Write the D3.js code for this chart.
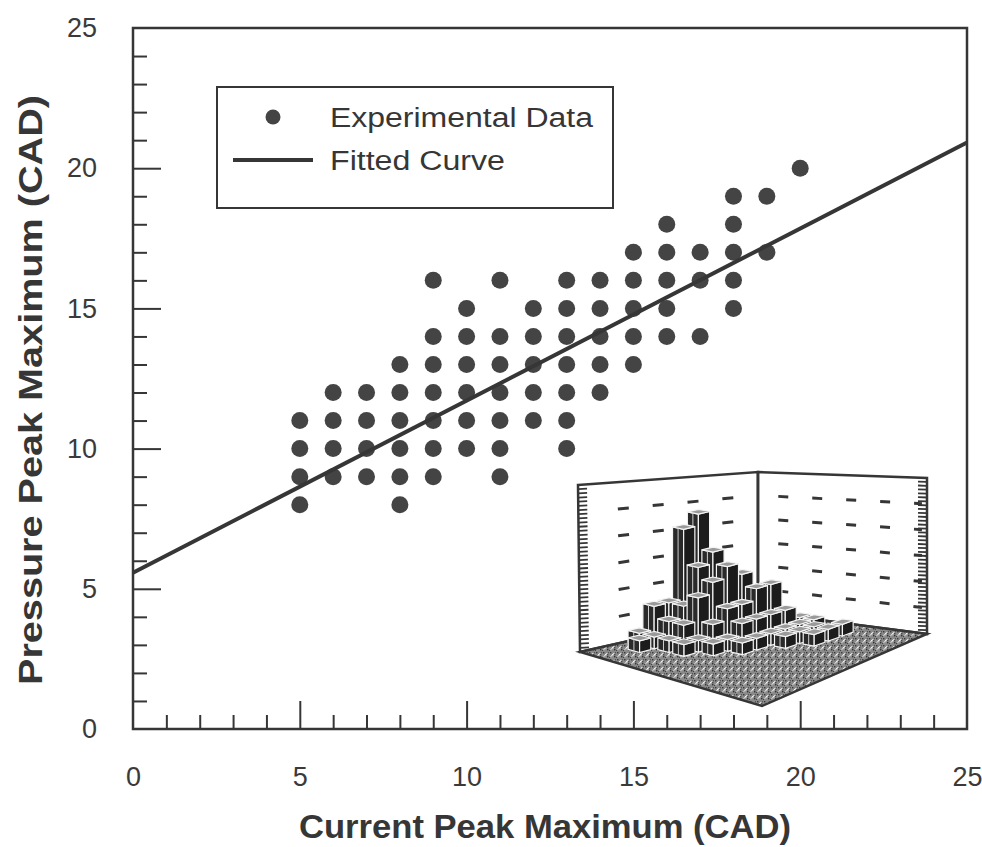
<!DOCTYPE html>
<html>
<head>
<meta charset="utf-8">
<script src="https://cdn.jsdelivr.net/npm/d3@7"></script>
<style>
    body { margin: 0; background: #fff; }
    svg { display: block; font-family: "Liberation Sans", Arial, Helvetica, sans-serif; }
</style>
</head>
<body>
<svg id="chart"></svg>
<script>
// experimental points, one list of pressure peaks per current peak value
const currentValues = [5, 6, 7, 8, 9, 10, 11, 12, 13, 14, 15, 16, 17, 18, 19, 20];
const pressureByCurrent = [
    [8, 9, 10, 11],
    [9, 10, 11, 12],
    [9, 10, 11, 12],
    [8, 9, 10, 11, 12, 13],
    [9, 10, 11, 12, 13, 14, 16],
    [10, 11, 12, 13, 14, 15],
    [9, 10, 11, 12, 13, 14, 16],
    [11, 12, 13, 14, 15],
    [10, 11, 12, 13, 14, 15, 16],
    [12, 13, 14, 15, 16],
    [13, 14, 15, 16, 17],
    [14, 15, 16, 17, 18],
    [14, 16, 17],
    [15, 16, 17, 18, 19],
    [17, 19],
    [20]
];

// fitted line: pressure = intercept + slope * current
const fitIntercept = 5.57;
const fitSlope = 0.614;

const xTickLabels = [0, 5, 10, 15, 20, 25];
const yTickLabels = [0, 5, 10, 15, 20, 25];
const legendLabels = ['Experimental Data', 'Fitted Curve'];

// inset histogram: counts per floor cell (rows = depth toward left, cols = toward right)
const insetCounts = [
    [0, 0, 0, 0, 0, 0, 0, 0, 0, 0, 0, 0],
    [0, 0, 1, 1, 1, 1, 0, 1, 0, 0, 0, 0],
    [0, 1, 2, 4, 2, 1, 1, 1, 0, 0, 0, 0],
    [1, 3, 5, 4, 2, 1, 1, 1, 0, 0, 0, 0],
    [10, 7, 6, 3, 2, 1, 1, 0, 0, 0, 0, 0],
    [9, 6, 5, 3, 2, 1, 0, 0, 0, 0, 0, 0],
    [3, 3, 4, 2, 1, 1, 0, 0, 0, 0, 0, 0],
    [3, 2, 2, 1, 1, 0, 0, 0, 0, 0, 0, 0],
    [1, 1, 1, 1, 0, 0, 0, 0, 0, 0, 0, 0],
    [0, 1, 0, 0, 0, 0, 0, 0, 0, 0, 0, 0],
    [0, 0, 0, 0, 0, 0, 0, 0, 0, 0, 0, 0],
    [0, 0, 0, 0, 0, 0, 0, 0, 0, 0, 0, 0]
];
const insetMaxCount = 12;

const ink = '#363636';
const fontFamily = '"Liberation Sans", Arial, Helvetica, sans-serif';

const width = 982, height = 847;
const plot = { left: 133, right: 967, top: 28, bottom: 729 };

const svg = d3.select('#chart')
    .attr('width', width)
    .attr('height', height);

svg.append('rect').attr('width', width).attr('height', height).attr('fill', '#fff');

const xScale = d3.scaleLinear().domain([0, 25]).range([plot.left, plot.right]);
const yScale = d3.scaleLinear().domain([0, 25]).range([plot.bottom, plot.top]);

// ---- axes: minor ticks, major ticks, labels (ticks point inward) ----
const minorVals = d3.range(1, 25).filter(d => d % 5 !== 0);
const majorVals = [5, 10, 15, 20];

function styleAxis(g) {
    g.attr('font-family', fontFamily).attr('font-size', 27);
    g.select('.domain').remove();
    g.selectAll('line').attr('stroke', ink).attr('stroke-width', 2);
    g.selectAll('text').attr('fill', '#3a3a3a');
}

svg.append('g')
    .attr('transform', `translate(0,${plot.bottom})`)
    .call(d3.axisBottom(xScale).tickValues(minorVals).tickSize(-14).tickFormat(''))
    .call(styleAxis);
svg.append('g')
    .attr('transform', `translate(0,${plot.bottom})`)
    .call(d3.axisBottom(xScale).tickValues(majorVals).tickSize(-28).tickFormat(''))
    .call(styleAxis);
svg.append('g')
    .attr('transform', `translate(0,${plot.bottom})`)
    .call(d3.axisBottom(xScale).tickValues(xTickLabels).tickSize(0).tickPadding(38))
    .call(styleAxis);

svg.append('g')
    .attr('transform', `translate(${plot.left},0)`)
    .call(d3.axisLeft(yScale).tickValues(minorVals).tickSize(-14).tickFormat(''))
    .call(styleAxis);
svg.append('g')
    .attr('transform', `translate(${plot.left},0)`)
    .call(d3.axisLeft(yScale).tickValues(majorVals).tickSize(-28).tickFormat(''))
    .call(styleAxis);
svg.append('g')
    .attr('transform', `translate(${plot.left},0)`)
    .call(d3.axisLeft(yScale).tickValues(yTickLabels).tickSize(0).tickPadding(36))
    .call(styleAxis);

// frame
svg.append('rect')
    .attr('x', plot.left).attr('y', plot.top)
    .attr('width', plot.right - plot.left).attr('height', plot.bottom - plot.top)
    .attr('fill', 'none').attr('stroke', ink).attr('stroke-width', 2.5);

// axis titles
svg.append('text')
    .attr('x', 545)
    .attr('y', 838)
    .attr('text-anchor', 'middle')
    .attr('font-size', 34).attr('font-weight', 'bold').attr('fill', ink)
    .attr('textLength', 492).attr('lengthAdjust', 'spacingAndGlyphs')
    .text('Current Peak Maximum (CAD)');

svg.append('text')
    .attr('transform', 'translate(42,390) rotate(-90)')
    .attr('text-anchor', 'middle')
    .attr('font-size', 34).attr('font-weight', 'bold').attr('fill', ink)
    .attr('textLength', 590).attr('lengthAdjust', 'spacingAndGlyphs')
    .text('Pressure Peak Maximum (CAD)');

// ---- inset 3D histogram ----
const inset = {
    back: [758, 612], left: [580, 652], right: [927, 634], front: [762, 706],
    leftTop: [578, 485], backTop: [758, 472], rightTop: [927, 478]
};
const cellScale = d3.scaleLinear().domain([0, insetCounts.length]).range([0, 1]);
const barHeight = d3.scaleLinear().domain([0, insetMaxCount]).range([0, 140]);

function floorPoint(u, v) {
    const b = inset.back, l = inset.left, r = inset.right, f = inset.front;
    const x = b[0] * (1 - u) * (1 - v) + l[0] * u * (1 - v) + r[0] * (1 - u) * v + f[0] * u * v;
    const y = b[1] * (1 - u) * (1 - v) + l[1] * u * (1 - v) + r[1] * (1 - u) * v + f[1] * u * v;
    return [x, y];
}
function project(u, v, h) {
    const p = floorPoint(u, v);
    return [p[0], p[1] - barHeight(h)];
}
const lerp = (a, b, t) => [a[0] + (b[0] - a[0]) * t, a[1] + (b[1] - a[1]) * t];
const pts = arr => arr.map(p => p.join(',')).join(' ');

const defs = svg.append('defs');
const pat = defs.append('pattern')
    .attr('id', 'speckle').attr('patternUnits', 'userSpaceOnUse')
    .attr('width', 7).attr('height', 7);
pat.append('rect').attr('width', 7).attr('height', 7).attr('fill', '#8a8a8a');
[[1, 1, '#3a3a3a'], [4, 2, '#d8d8d8'], [2, 4, '#cfcfcf'], [5, 5, '#333'], [6, 1, '#555'],
 [0, 6, '#444'], [3, 3, '#eee'], [5, 3, '#4a4a4a'], [1, 5, '#bbb']]
    .forEach(d => pat.append('rect').attr('x', d[0]).attr('y', d[1]).attr('width', 1.4).attr('height', 1.4).attr('fill', d[2]));

const insetG = svg.append('g');

// walls
insetG.append('polygon')
    .attr('points', pts([inset.leftTop, inset.backTop, inset.back, inset.left]))
    .attr('fill', '#fff').attr('stroke', ink).attr('stroke-width', 2.5);
insetG.append('polygon')
    .attr('points', pts([inset.backTop, inset.rightTop, inset.right, inset.back]))
    .attr('fill', '#fff').attr('stroke', ink).attr('stroke-width', 2.5);

// dashed level lines on the walls
const levels = d3.range(1, 6).map(k => k / 6);
levels.forEach(t => {
    const a = lerp(inset.left, inset.leftTop, t), b = lerp(inset.back, inset.backTop, t);
    const c = lerp(inset.right, inset.rightTop, t);
    const la = lerp(a, b, 0.22), lb = lerp(a, b, 0.97);
    insetG.append('line')
        .attr('x1', la[0]).attr('y1', la[1]).attr('x2', lb[0]).attr('y2', lb[1])
        .attr('stroke', ink).attr('stroke-width', 3).attr('stroke-dasharray', '11,24');
    const ra = lerp(b, c, 0.12), rb = lerp(b, c, 0.97);
    insetG.append('line')
        .attr('x1', ra[0]).attr('y1', ra[1]).attr('x2', rb[0]).attr('y2', rb[1])
        .attr('stroke', ink).attr('stroke-width', 3).attr('stroke-dasharray', '10,24');
});

// ruler ticks on the outer wall edges
const rulerSteps = d3.range(1, 40).map(k => k / 40);
rulerSteps.forEach(t => {
    const a = lerp(inset.left, inset.leftTop, t);
    insetG.append('line')
        .attr('x1', a[0]).attr('y1', a[1]).attr('x2', a[0] + 9).attr('y2', a[1] - 0.5)
        .attr('stroke', ink).attr('stroke-width', 1.8);
    const c = lerp(inset.right, inset.rightTop, t);
    insetG.append('line')
        .attr('x1', c[0]).attr('y1', c[1]).attr('x2', c[0] - 9).attr('y2', c[1] - 0.3)
        .attr('stroke', ink).attr('stroke-width', 1.8);
});

// floor
insetG.append('polygon')
    .attr('points', pts([inset.back, inset.right, inset.front, inset.left]))
    .attr('fill', 'url(#speckle)').attr('stroke', ink).attr('stroke-width', 2.5);

// corner line
insetG.append('line')
    .attr('x1', inset.back[0]).attr('y1', inset.back[1])
    .attr('x2', inset.backTop[0]).attr('y2', inset.backTop[1])
    .attr('stroke', ink).attr('stroke-width', 2.5);

// bars, drawn back to front
const bars = [];
insetCounts.forEach((row, i) => row.forEach((c, j) => { if (c > 0) bars.push({ i, j, c }); }));
bars.sort((a, b) => (a.i + a.j) - (b.i + b.j) || a.i - b.i);

bars.forEach(d => {
    const u0 = cellScale(d.i + 0.12), u1 = cellScale(d.i + 0.88);
    const v0 = cellScale(d.j + 0.12), v1 = cellScale(d.j + 0.88);
    const g = insetG.append('g');
    g.append('polygon')
        .attr('points', pts([project(u1, v0, 0), project(u1, v1, 0), project(u1, v1, d.c), project(u1, v0, d.c)]))
        .attr('fill', '#2a2a2a').attr('stroke', '#f4f4f4').attr('stroke-width', 1.2);
    g.append('polygon')
        .attr('points', pts([project(u0, v1, 0), project(u1, v1, 0), project(u1, v1, d.c), project(u0, v1, d.c)]))
        .attr('fill', '#1c1c1c').attr('stroke', '#f4f4f4').attr('stroke-width', 1.2);
    g.append('polygon')
        .attr('points', pts([project(u0, v0, d.c), project(u1, v0, d.c), project(u1, v1, d.c), project(u0, v1, d.c)]))
        .attr('fill', '#9a9a9a').attr('stroke', '#f4f4f4').attr('stroke-width', 1.2);
    const m0 = project(u1, (v0 + v1) / 2, 0), m1 = project(u1, (v0 + v1) / 2, d.c);
    g.append('line')
        .attr('x1', m0[0]).attr('y1', m0[1]).attr('x2', m1[0]).attr('y2', m1[1])
        .attr('stroke', '#cfcfcf').attr('stroke-width', 1);
});

// ---- scatter points ----
const points = [];
currentValues.forEach((cur, k) => pressureByCurrent[k].forEach(p => points.push({ current: cur, pressure: p })));

svg.append('g')
    .selectAll('circle')
    .data(points)
    .join('circle')
    .attr('cx', d => xScale(d.current))
    .attr('cy', d => yScale(d.pressure))
    .attr('r', 8.5)
    .attr('fill', '#444');

// ---- fitted line ----
svg.append('line')
    .attr('x1', xScale(0)).attr('y1', yScale(fitIntercept))
    .attr('x2', xScale(25)).attr('y2', yScale(fitIntercept + fitSlope * 25))
    .attr('stroke', ink).attr('stroke-width', 4);

// ---- legend ----
const legend = svg.append('g');
legend.append('rect')
    .attr('x', 217).attr('y', 87).attr('width', 396).attr('height', 121)
    .attr('fill', '#fff').attr('stroke', ink).attr('stroke-width', 2);
legend.append('circle').attr('cx', 273).attr('cy', 117).attr('r', 7.5).attr('fill', '#444');
legend.append('line')
    .attr('x1', 233).attr('x2', 313).attr('y1', 160).attr('y2', 160)
    .attr('stroke', ink).attr('stroke-width', 4);
legend.selectAll('text.lbl')
    .data(legendLabels)
    .join('text')
    .attr('class', 'lbl')
    .attr('x', 330)
    .attr('y', (d, i) => 127 + i * 43)
    .attr('font-size', 27)
    .attr('fill', ink)
    .attr('textLength', (d, i) => i === 0 ? 263 : 175)
    .attr('lengthAdjust', 'spacingAndGlyphs')
    .text(d => d);
</script>
</body>
</html>
